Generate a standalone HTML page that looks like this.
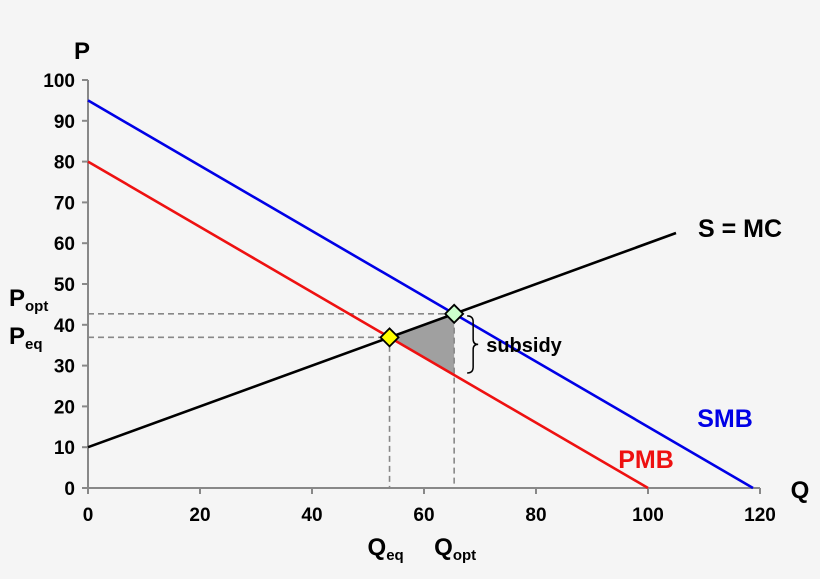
<!DOCTYPE html>
<html><head><meta charset="utf-8">
<style>
html,body{margin:0;padding:0;background:#f5f5f5;}
svg{display:block;font-family:"Liberation Sans",sans-serif;font-weight:bold;}
</style></head>
<body>
<svg id="chart" width="820" height="579" viewBox="0 0 820 579"></svg>
<script>
const xTicks=[0,20,40,60,80,100,120];
const yTicks=[0,10,20,30,40,50,60,70,80,90,100];
const smbLine=[[0,95],[118.75,0]];
const pmbLine=[[0,80],[100,0]];
const mcLine=[[0,10],[105,62.5]];

const X0=88,XS=5.6,Y0=488,YS=4.08;
const sx=q=>X0+q*XS, sy=p=>Y0-p*YS;
const svg=document.getElementById('chart');
const NS='http://www.w3.org/2000/svg';
function mk(tag,attrs,parent){const e=document.createElementNS(NS,tag);for(const k in attrs)e.setAttribute(k,attrs[k]);(parent||svg).appendChild(e);return e;}
function txt(x,y,s,size,fill,anchor){const t=mk('text',{x:x,y:y,'font-size':size,fill:fill||'#000','text-anchor':anchor||'middle'});t.textContent=s;return t;}

function lineFn(l){const m=(l[1][1]-l[0][1])/(l[1][0]-l[0][0]);return {m:m,b:l[0][1]-m*l[0][0]};}
const mc=lineFn(mcLine),pmb=lineFn(pmbLine),smb=lineFn(smbLine);
const qEq=(pmb.b-mc.b)/(mc.m-pmb.m), pEq=mc.b+mc.m*qEq;
const qOpt=(smb.b-mc.b)/(mc.m-smb.m), pOpt=mc.b+mc.m*qOpt;
const pPmbOpt=pmb.b+pmb.m*qOpt;

let a=mk('line',{x1:X0,y1:sy(100),x2:X0,y2:Y0,stroke:'#888','stroke-width':2});

a=mk('line',{x1:X0,y1:Y0,x2:sx(120),y2:Y0,stroke:'#888','stroke-width':2});

yTicks.forEach(v=>{
  const t=mk('line',{x1:X0-6,y1:sy(v),x2:X0,y2:sy(v),stroke:'#888','stroke-width':2});
  
  const l=txt(75,sy(v)+7,String(v),19,'#000','end');
  
});
xTicks.forEach(v=>{
  const t=mk('line',{x1:sx(v),y1:Y0,x2:sx(v),y2:Y0+6,stroke:'#888','stroke-width':2});
  
  const l=txt(sx(v),Y0+33,String(v),19);
  
});

let s=mk('polygon',{points:`${sx(qEq)},${sy(pEq)} ${sx(qOpt)},${sy(pOpt)} ${sx(qOpt)},${sy(pPmbOpt)}`,fill:'#a0a0a0'});


const dash={stroke:'#888','stroke-width':1.6,'stroke-dasharray':'6,4',fill:'none'};
let d=mk('polyline',Object.assign({points:`${X0},${sy(pOpt)} ${sx(qOpt)},${sy(pOpt)} ${sx(qOpt)},${Y0}`},dash));

d=mk('polyline',Object.assign({points:`${X0},${sy(pEq)} ${sx(qEq)},${sy(pEq)} ${sx(qEq)},${Y0}`},dash));


function drawLine(l,color,name){const e=mk('line',{x1:sx(l[0][0]),y1:sy(l[0][1]),x2:sx(l[1][0]),y2:sy(l[1][1]),stroke:color,'stroke-width':2.6});
  }
drawLine(smbLine,'#0000e6','smb-line');
drawLine(pmbLine,'#ee1111','pmb-line');
drawLine(mcLine,'#000','mc-line');

function diamond(q,p,fill,name){const x=sx(q),y=sy(p),r=9;
  const e=mk('polygon',{points:`${x},${y-r} ${x+r},${y} ${x},${y+r} ${x-r},${y}`,fill:fill,stroke:'#000','stroke-width':1.8});
  }
diamond(qEq,pEq,'#ffff00','eq-point');
diamond(qOpt,pOpt,'#ccffcc','opt-point');

const bx=sx(qOpt)+13,bt=sy(pOpt)+2,bb=sy(pPmbOpt)-2,bm=(bt+bb)/2;
let br=mk('path',{d:`M${bx},${bt} q6,0 6,6 L${bx+6},${bm-5} q0,5 5,5 q-5,0 -5,5 L${bx+6},${bb-6} q0,6 -6,6`,fill:'none',stroke:'#000','stroke-width':1.5});


let t;
t=txt(82,59,'P',24);
t=txt(800,498,'Q',24);
t=txt(740,237,'S = MC',25);
t=txt(725,427,'SMB',25,'#0000e6');
t=txt(646,468,'PMB',25,'#ee1111');
t=txt(524,352,'subsidy',20,'#000');
t=mk('text',{x:9,y:306,'font-size':24});t.innerHTML='P<tspan font-size="15" dy="5">opt</tspan>';

t=mk('text',{x:9,y:344,'font-size':24});t.innerHTML='P<tspan font-size="15" dy="5">eq</tspan>';

t=mk('text',{x:sx(qEq)-22,y:555,'font-size':24});t.innerHTML='Q<tspan font-size="15" dy="5">eq</tspan>';

t=mk('text',{x:sx(qOpt)-20,y:555,'font-size':24});t.innerHTML='Q<tspan font-size="15" dy="5">opt</tspan>';

</script>
</body></html>
